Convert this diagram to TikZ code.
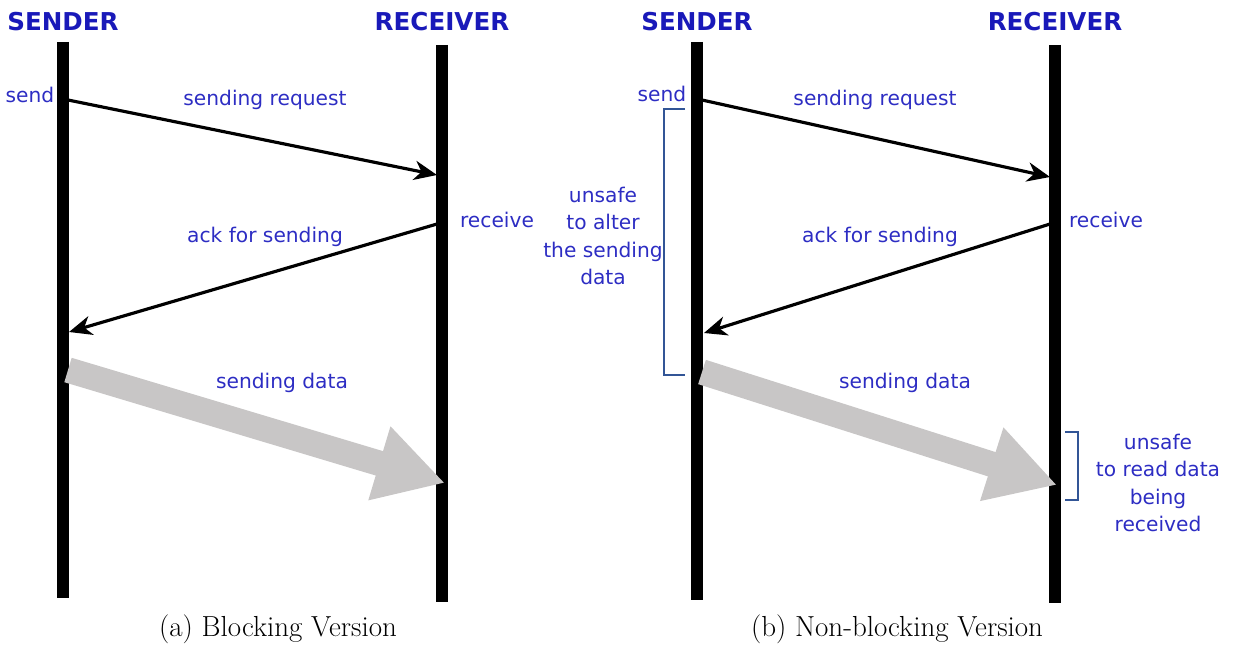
\documentclass[tikz,border=0pt]{standalone}
\usepackage{fontspec}
\usetikzlibrary{arrows.meta}
\newfontfamily\seqfont{DejaVu Sans}
\definecolor{textblue}{RGB}{45,45,195}
\definecolor{headblue}{RGB}{25,25,185}
\definecolor{bracketblue}{RGB}{50,85,150}
\definecolor{bulkgray}{RGB}{200,198,198}
\tikzstyle{lifeline}=[draw,line width=6.3pt]
\tikzstyle{party}=[font=\seqfont\bfseries\fontsize{14}{16}\selectfont,text=headblue]
\tikzstyle{note}=[font=\seqfont\fontsize{11.5}{15.5}\selectfont,text=textblue,align=center]
\tikzstyle{msg} = [draw,line width=1.8pt,-{Stealth[length=13pt,width=11pt,inset=4pt]}]
\tikzstyle{bulk} = [draw,bulkgray,line width=14.5pt,-{Triangle[length=39pt,width=41pt]}]
\tikzstyle{bracket} = [draw,bracketblue,line width=0.7pt]
\tikzstyle{subcap}=[font=\fontsize{16.5}{19}\selectfont]

\begin{document}
\begin{tikzpicture}[x=0.02cm,y=-0.02cm]
    \useasboundingbox (0,0) rectangle (1236,652);

    % lifelines and their headers
    \foreach \name/\x/\top/\bot/\who in {sa/63/42/598/SENDER, ra/442/45/602/RECEIVER,
                                         sb/697/42/600/SENDER, rb/1055/45/603/RECEIVER} {
        \coordinate (\name-top) at (\x,\top);
        \coordinate (\name-bot) at (\x,\bot);
        \path[lifeline] (\name-top) -- (\name-bot);
        \node[party] (\name-head) at (\x,22) {\who};
    }

    % blocking version
    \coordinate (sa-send) at (68,100);
    \coordinate (ra-req) at (437,175);
    \coordinate (ra-ack) at (437,224);
    \coordinate (sa-ack) at (69,332);
    \coordinate (sa-data) at (68,370);
    \coordinate (ra-data) at (445,483);
    \path[msg] (sa-send) -- (ra-req);
    \path[msg] (ra-ack) -- (sa-ack);
    \path[bulk] (sa-data) -- (ra-data);
    \node[note] (a-send) at (30,95) {send};
    \node[note] (a-receive) at (497,220) {receive};
    \node[note] (a-req) at (265,100) {sending request};
    \node[note] (a-ack) at (265,237) {ack for sending};
    \node[note] (a-data) at (282,383) {sending data};

    % non-blocking version
    \coordinate (sb-send) at (702,100);
    \coordinate (rb-req) at (1050,177);
    \coordinate (rb-ack) at (1050,224);
    \coordinate (sb-ack) at (704,333);
    \coordinate (sb-data) at (702,372);
    \coordinate (rb-data) at (1057,485);
    \path[msg] (sb-send) -- (rb-req);
    \path[msg] (rb-ack) -- (sb-ack);
    \path[bulk] (sb-data) -- (rb-data);
    \node[note] (b-send) at (662,94) {send};
    \node[note] (b-receive) at (1106,220) {receive};
    \node[note] (b-req) at (875,100) {sending request};
    \node[note] (b-ack) at (880,237) {ack for sending};
    \node[note] (b-data) at (905,383) {sending data};

    % unsafe intervals
    \coordinate (ub1) at (685,109);
    \coordinate (ub2) at (664,109);
    \coordinate (ub3) at (664,375);
    \coordinate (ub4) at (685,375);
    \path[bracket] (ub1) -- (ub2) -- (ub3) -- (ub4);
    \node[note] (b-alter) at (603,236) {unsafe\\to alter\\the sending\\data};
    \coordinate (ur1) at (1065,432);
    \coordinate (ur2) at (1078,432);
    \coordinate (ur3) at (1078,500);
    \coordinate (ur4) at (1065,500);
    \path[bracket] (ur1) -- (ur2) -- (ur3) -- (ur4);
    \node[note] (b-read) at (1158,483) {unsafe\\to read data\\being\\received};

    \node[subcap] (cap-a) at (278,629) {(a) Blocking Version};
    \node[subcap] (cap-b) at (897,629) {(b) Non-blocking Version};
\end{tikzpicture}
\end{document}
